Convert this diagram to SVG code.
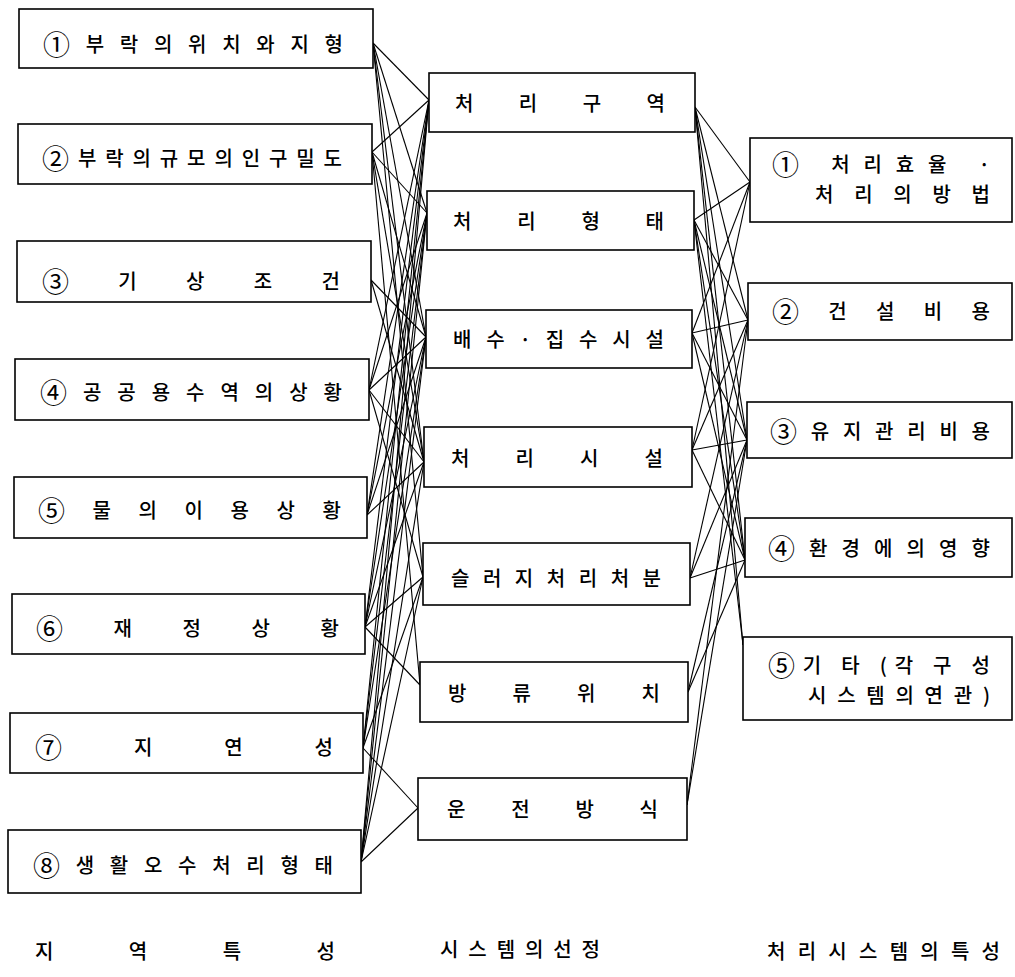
<svg xmlns="http://www.w3.org/2000/svg" width="1015" height="977" viewBox="0 0 1015 977">
<style>
rect.b{fill:#fff;stroke:#000;stroke-width:1.6}
text{font-family:"Noto Sans CJK KR","Noto Sans",sans-serif;font-size:20px;font-weight:500;fill:#000;dominant-baseline:central}
tspan.n{font-size:27px;font-weight:400}
#connectors line{stroke:#000;stroke-width:1.1}
</style>
<rect width="1015" height="977" fill="#fff"/>
<g id="connectors">
<line x1="373" y1="43" x2="429" y2="100"/>
<line x1="373" y1="43" x2="427" y2="213"/>
<line x1="373" y1="43" x2="426" y2="337"/>
<line x1="373" y1="43" x2="424" y2="462"/>
<line x1="373" y1="43" x2="423" y2="577"/>
<line x1="372" y1="152" x2="429" y2="100"/>
<line x1="372" y1="152" x2="427" y2="213"/>
<line x1="372" y1="152" x2="426" y2="337"/>
<line x1="372" y1="152" x2="424" y2="462"/>
<line x1="372" y1="152" x2="420" y2="685"/>
<line x1="371" y1="280" x2="426" y2="337"/>
<line x1="371" y1="280" x2="424" y2="462"/>
<line x1="369" y1="390" x2="429" y2="100"/>
<line x1="369" y1="390" x2="427" y2="213"/>
<line x1="369" y1="390" x2="426" y2="337"/>
<line x1="369" y1="390" x2="424" y2="462"/>
<line x1="369" y1="390" x2="423" y2="577"/>
<line x1="367" y1="515" x2="429" y2="100"/>
<line x1="367" y1="515" x2="427" y2="213"/>
<line x1="367" y1="515" x2="426" y2="337"/>
<line x1="367" y1="515" x2="424" y2="462"/>
<line x1="365" y1="627" x2="429" y2="100"/>
<line x1="365" y1="627" x2="427" y2="213"/>
<line x1="365" y1="627" x2="426" y2="337"/>
<line x1="365" y1="627" x2="424" y2="462"/>
<line x1="365" y1="627" x2="423" y2="577"/>
<line x1="365" y1="627" x2="420" y2="685"/>
<line x1="363" y1="748" x2="429" y2="100"/>
<line x1="363" y1="748" x2="427" y2="213"/>
<line x1="363" y1="748" x2="426" y2="337"/>
<line x1="363" y1="748" x2="423" y2="577"/>
<line x1="363" y1="748" x2="418" y2="808"/>
<line x1="361" y1="862" x2="429" y2="100"/>
<line x1="361" y1="862" x2="427" y2="213"/>
<line x1="361" y1="862" x2="426" y2="337"/>
<line x1="361" y1="862" x2="424" y2="462"/>
<line x1="361" y1="862" x2="423" y2="577"/>
<line x1="361" y1="862" x2="418" y2="808"/>
<line x1="695" y1="107" x2="750" y2="182"/>
<line x1="695" y1="107" x2="748" y2="320"/>
<line x1="695" y1="107" x2="747" y2="440"/>
<line x1="695" y1="107" x2="745" y2="560"/>
<line x1="695" y1="107" x2="743" y2="645"/>
<line x1="694" y1="220" x2="750" y2="182"/>
<line x1="694" y1="220" x2="748" y2="320"/>
<line x1="694" y1="220" x2="747" y2="440"/>
<line x1="694" y1="220" x2="745" y2="560"/>
<line x1="694" y1="220" x2="743" y2="645"/>
<line x1="692" y1="333" x2="750" y2="182"/>
<line x1="692" y1="333" x2="748" y2="320"/>
<line x1="692" y1="333" x2="747" y2="440"/>
<line x1="692" y1="333" x2="745" y2="560"/>
<line x1="692" y1="450" x2="750" y2="182"/>
<line x1="692" y1="450" x2="748" y2="320"/>
<line x1="692" y1="450" x2="747" y2="440"/>
<line x1="692" y1="450" x2="745" y2="560"/>
<line x1="690" y1="578" x2="748" y2="320"/>
<line x1="690" y1="578" x2="747" y2="440"/>
<line x1="690" y1="578" x2="745" y2="560"/>
<line x1="688" y1="692" x2="747" y2="440"/>
<line x1="688" y1="692" x2="745" y2="560"/>
<line x1="687" y1="805" x2="748" y2="320"/>
<line x1="687" y1="805" x2="747" y2="440"/>
</g>
<g id="L1"><rect class="b" x="19" y="9" width="354" height="59"/><text x="43" y="43" textLength="300" lengthAdjust="spacing"><tspan class="n">①</tspan>부락의위치와지형</text></g>
<g id="L2"><rect class="b" x="18" y="124" width="354" height="60"/><text x="42" y="157" textLength="300" lengthAdjust="spacing"><tspan class="n">②</tspan>부락의규모의인구밀도</text></g>
<g id="L3"><rect class="b" x="17" y="241" width="354" height="61"/><text x="42" y="280" textLength="298" lengthAdjust="spacing"><tspan class="n">③</tspan>  기  상  조  건</text></g>
<g id="L4"><rect class="b" x="15" y="359" width="354" height="61"/><text x="40" y="391" textLength="302" lengthAdjust="spacing"><tspan class="n">④</tspan>공공용수역의상황</text></g>
<g id="L5"><rect class="b" x="14" y="477" width="353" height="61"/><text x="38" y="509" textLength="303" lengthAdjust="spacing"><tspan class="n">⑤</tspan> 물 의 이 용 상 황</text></g>
<g id="L6"><rect class="b" x="12" y="594" width="353" height="60"/><text x="36" y="627" textLength="303" lengthAdjust="spacing"><tspan class="n">⑥</tspan>  재  정  상  황</text></g>
<g id="L7"><rect class="b" x="10" y="713" width="353" height="60"/><text x="35" y="746" textLength="298" lengthAdjust="spacing"><tspan class="n">⑦</tspan>   지   연   성</text></g>
<g id="L8"><rect class="b" x="8" y="830" width="353" height="63"/><text x="33" y="864" textLength="300" lengthAdjust="spacing"><tspan class="n">⑧</tspan>생활오수처리형태</text></g>
<g id="MA"><rect class="b" x="429" y="73" width="266" height="59"/><text x="455" y="102" textLength="210" lengthAdjust="spacing">처 리 구 역</text></g>
<g id="MB"><rect class="b" x="427" y="191" width="267" height="59"/><text x="453" y="220" textLength="211" lengthAdjust="spacing">처 리 형 태</text></g>
<g id="MC"><rect class="b" x="426" y="310" width="266" height="58"/><text x="453" y="338" textLength="211" lengthAdjust="spacing">배수·집수시설</text></g>
<g id="MD"><rect class="b" x="424" y="427" width="268" height="60"/><text x="451" y="457" textLength="212" lengthAdjust="spacing">처 리 시 설</text></g>
<g id="ME"><rect class="b" x="423" y="543" width="267" height="62"/><text x="451" y="577" textLength="210" lengthAdjust="spacing">슬러지처리처분</text></g>
<g id="MF"><rect class="b" x="420" y="662" width="268" height="60"/><text x="448" y="692" textLength="212" lengthAdjust="spacing">방 류 위 치</text></g>
<g id="MG"><rect class="b" x="418" y="778" width="269" height="62"/><text x="447" y="808" textLength="211" lengthAdjust="spacing">운 전 방 식</text></g>
<g id="R1"><rect class="b" x="750" y="138" width="262" height="84"/><text x="772" y="163" textLength="218" lengthAdjust="spacing"><tspan class="n">①</tspan> 처리효율 ·</text><text x="815" y="193" textLength="175" lengthAdjust="spacing">처리의방법</text></g>
<g id="R2"><rect class="b" x="748" y="283" width="264" height="57"/><text x="772" y="310" textLength="218" lengthAdjust="spacing"><tspan class="n">②</tspan> 건 설 비 용</text></g>
<g id="R3"><rect class="b" x="747" y="402" width="265" height="56"/><text x="770" y="430" textLength="220" lengthAdjust="spacing"><tspan class="n">③</tspan>유지관리비용</text></g>
<g id="R4"><rect class="b" x="745" y="518" width="267" height="59"/><text x="768" y="547" textLength="222" lengthAdjust="spacing"><tspan class="n">④</tspan>환경에의영향</text></g>
<g id="R5"><rect class="b" x="743" y="637" width="269" height="83"/><text x="768" y="664" textLength="222" lengthAdjust="spacing"><tspan class="n">⑤</tspan>기 타 (각 구 성</text><text x="808" y="694" textLength="182" lengthAdjust="spacing">시스템의연관)</text></g>
<g id="labels">
<text x="35" y="950" textLength="300" lengthAdjust="spacing">지      역      특      성</text>
<text x="440" y="948" textLength="160" lengthAdjust="spacing">시 스 템 의 선 정</text>
<text x="767" y="950" textLength="233" lengthAdjust="spacing">처리시스템의특성</text>
</g>
</svg>
